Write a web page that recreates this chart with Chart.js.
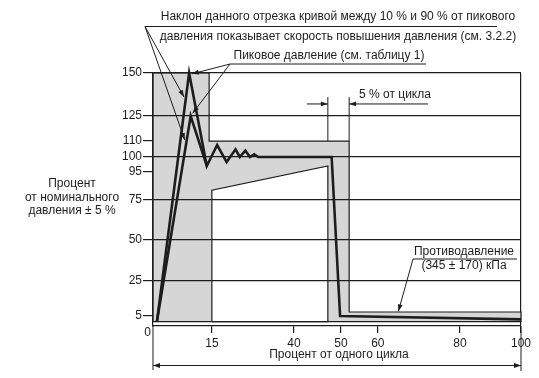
<!DOCTYPE html>
<html>
<head>
<meta charset="utf-8">
<script src="https://cdn.jsdelivr.net/npm/chart.js@4.4.1/dist/chart.umd.min.js"></script>
<style>
  html, body { margin: 0; padding: 0; background: #fff; }
  #wrap { width: 539px; height: 378px; }
</style>
</head>
<body>
<div id="wrap"><canvas id="chart"></canvas></div>
<script>
// axis ticks
var xTicks = [0, 15, 40, 50, 60, 80, 100];
var yTicks = [0, 5, 25, 50, 75, 95, 100, 110, 125, 150];
var yGrid = [25, 50, 75, 100, 125, 150];

// tolerance band: outer outline and the white inner part
var bandX = [0, 0, 14.3, 14.3, 52.2, 52.2, 100, 100, 0];
var bandY = [2.2, 150, 150, 110, 110, 7.3, 7.3, 2.2, 2.2];
var holeX = [15, 15, 47.2, 47.2, 15];
var holeY = [2.2, 82, 97, 2.2, 2.2];

// pressure curves (A reaches 150 %, B only 125 %)
var curveAX = [1, 9.2, 13.7, 16.6, 19.5, 22.2, 23.5, 25.2, 26.6, 27.9, 29.1, 48, 49.8, 100];
var curveAY = [2.2, 150, 97, 107.5, 98.3, 104.8, 100, 104, 100, 101.7, 100, 100, 5, 3.3];
var curveBX = [1, 9.6, 13.7];
var curveBY = [2.2, 125, 97];

// where the leader arrows point (in axis units)
var slopeTips = [[7.9, 136], [8.1, 110.6]];
var peakTips = [[9.9, 149.5], [10.1, 126.6]];
var cycleMarks = [47.2, 52.2];
var backTip = [65, 7.6];

// texts
var yTitle = ['Процент', 'от номинального', 'давления ± 5 %'];
var xTitle = 'Процент от одного цикла';
var slopeNote = ['Наклон данного отрезка кривой между 10 % и 90 % от пикового',
                 'давления показывает скорость повышения давления (см. 3.2.2)'];
var peakNote = 'Пиковое давление (см. таблицу 1)';
var cycleNote = '5 % от цикла';
var backNote = ['Противодавление', '(345 ± 170) кПа'];

// the drawing is not to scale: share of the axis length at each tick value
var xStops = [0, 0.160, 0.383, 0.511, 0.611, 0.834, 1];
var yStops = [0, 0.0395, 0.178, 0.340, 0.498, 0.609, 0.668, 0.731, 0.830, 1];

var ink = '#1d1d1d';
var none = 'rgba(0,0,0,0)';
var family = '"Liberation Sans", Arial, sans-serif';

var LinearScale = Chart.LinearScale || Chart.registry.getScale('linear');

class WarpedScale extends LinearScale {
  stops() { return this.axis === 'x' ? [xTicks, xStops] : [yTicks, yStops]; }
  getPixelForValue(value) {
    if (value === null || value === undefined || isNaN(value)) return NaN;
    var s = this.stops(), v = s[0], f = s[1], i = 1;
    while (i < v.length - 1 && value > v[i]) i++;
    var t = (value - v[i - 1]) / (v[i] - v[i - 1]);
    return this.getPixelForDecimal(f[i - 1] + t * (f[i] - f[i - 1]));
  }
  getValueForPixel(pixel) {
    var d = this.getDecimalForPixel(pixel);
    var s = this.stops(), v = s[0], f = s[1], i = 1;
    while (i < f.length - 1 && d > f[i]) i++;
    var t = (d - f[i - 1]) / (f[i] - f[i - 1]);
    return v[i - 1] + t * (v[i] - v[i - 1]);
  }
}
WarpedScale.id = 'warped';
WarpedScale.defaults = {};
Chart.register(WarpedScale);

function pts(xs, ys) {
  return xs.map(function (x, i) { return {x: x, y: ys[i]}; });
}

function arrow(ctx, x0, y0, x1, y1) {
  ctx.beginPath();
  ctx.moveTo(x0, y0);
  ctx.lineTo(x1, y1);
  ctx.stroke();
  var a = Math.atan2(y1 - y0, x1 - x0), L = 7, w = 2.4;
  ctx.beginPath();
  ctx.moveTo(x1, y1);
  ctx.lineTo(x1 - L * Math.cos(a) + w * Math.sin(a), y1 - L * Math.sin(a) - w * Math.cos(a));
  ctx.lineTo(x1 - L * Math.cos(a) - w * Math.sin(a), y1 - L * Math.sin(a) + w * Math.cos(a));
  ctx.closePath();
  ctx.fill();
}

function line(ctx, x0, y0, x1, y1) {
  ctx.beginPath();
  ctx.moveTo(x0, y0);
  ctx.lineTo(x1, y1);
  ctx.stroke();
}

var notes = {
  id: 'notes',
  afterDraw: function (chart) {
    var ctx = chart.ctx;
    var sx = chart.scales.x, sy = chart.scales.y;
    var px = function (v) { return sx.getPixelForValue(v); };
    var py = function (v) { return sy.getPixelForValue(v); };
    var left = chart.chartArea.left, right = chart.chartArea.right, bottom = chart.chartArea.bottom;

    ctx.save();
    ctx.fillStyle = ink;
    ctx.strokeStyle = ink;
    ctx.lineWidth = 1;
    ctx.font = '12px ' + family;
    ctx.textBaseline = 'middle';

    // origin label sits below-left of the corner
    ctx.textAlign = 'right';
    ctx.fillText(String(yTicks[0]), left - 2, bottom + 7);

    // y title
    ctx.textAlign = 'center';
    yTitle.forEach(function (s, i) { ctx.fillText(s, 72, 184 + i * 13.4); });

    // slope note with two leaders
    ctx.fillText(slopeNote[0], 338, 17);
    ctx.fillText(slopeNote[1], 338, 37);
    line(ctx, 145, 26.5, 497, 26.5);
    slopeTips.forEach(function (t) { arrow(ctx, 145, 26.5, px(t[0]), py(t[1])); });

    // peak note
    ctx.fillText(peakNote, 329, 56);
    line(ctx, 230, 64, 426, 64);
    peakTips.forEach(function (t) { arrow(ctx, 230, 64, px(t[0]), py(t[1])); });

    // 5 % of cycle dimension
    ctx.textAlign = 'left';
    ctx.fillText(cycleNote, 359, 95);
    var yTop = py(136), yDim = py(132);
    cycleMarks.forEach(function (m) { line(ctx, px(m), yTop, px(m), py(110)); });
    arrow(ctx, px(cycleMarks[0]) - 21, yDim, px(cycleMarks[0]), yDim);
    arrow(ctx, 428, yDim, px(cycleMarks[1]), yDim);

    // back pressure
    ctx.textAlign = 'center';
    ctx.fillText(backNote[0], 464, 252);
    ctx.fillText(backNote[1], 464, 266);
    line(ctx, 413, 259, 517, 259);
    arrow(ctx, 413, 259, px(backTip[0]), py(backTip[1]));

    // x title with span arrow
    ctx.fillText(xTitle, 339, 355);
    line(ctx, left, bottom, left, 370);
    line(ctx, right, bottom, right, 371);
    arrow(ctx, (left + right) / 2, 365.5, left, 365.5);
    arrow(ctx, (left + right) / 2, 365.5, right, 365.5);
    ctx.restore();
  }
};

new Chart(document.getElementById('chart'), {
  type: 'line',
  data: {
    datasets: [
      {
        label: 'A', data: pts(curveAX, curveAY), order: 1,
        borderColor: ink, borderWidth: 2.6, borderJoinStyle: 'miter',
        pointRadius: 0, fill: false, clip: false
      },
      {
        label: 'B', data: pts(curveBX, curveBY), order: 1,
        borderColor: ink, borderWidth: 2.6, borderJoinStyle: 'miter',
        pointRadius: 0, fill: false, clip: false
      },
      {
        label: 'hole', data: pts(holeX, holeY), order: 2,
        borderColor: ink, borderWidth: 1.2, backgroundColor: '#ffffff',
        pointRadius: 0, fill: 'shape', clip: false
      },
      {
        label: 'band', data: pts(bandX, bandY), order: 3,
        borderColor: ink, borderWidth: 1.2, backgroundColor: '#d6d6d6',
        pointRadius: 0, fill: 'shape', clip: false
      }
    ]
  },
  options: {
    responsive: true,
    maintainAspectRatio: false,
    animation: false,
    events: [],
    layout: { padding: { top: 73, right: 18, left: 0, bottom: 0 } },
    plugins: { legend: { display: false }, tooltip: { enabled: false } },
    scales: {
      x: {
        type: 'warped', position: 'bottom', min: 0, max: 100,
        afterFit: function (scale) { scale.height = 52; },
        afterBuildTicks: function (scale) {
          scale.ticks = xTicks.map(function (v) { return {value: v}; });
        },
        border: { display: true, color: ink, width: 1.2 },
        grid: {
          lineWidth: 1.2, tickLength: 7,
          color: function (c) { return c.tick && c.tick.value === 100 ? ink : none; },
          tickColor: function (c) { return c.tick && c.tick.value === 0 ? none : ink; }
        },
        ticks: {
          autoSkip: false, maxRotation: 0, padding: 3, color: ink,
          font: { family: family, size: 12 },
          callback: function (v) { return v === 0 ? '' : String(v); }
        }
      },
      y: {
        type: 'warped', position: 'left', min: 0, max: 150,
        afterFit: function (scale) { scale.width = 153; },
        afterBuildTicks: function (scale) {
          scale.ticks = yTicks.map(function (v) { return {value: v}; });
        },
        border: { display: true, color: ink, width: 1.2, z: 1 },
        grid: {
          z: 1, lineWidth: 1.2, tickLength: 10,
          color: function (c) { return c.tick && yGrid.indexOf(c.tick.value) >= 0 ? ink : none; },
          tickColor: function (c) { return c.tick && c.tick.value === 0 ? none : ink; }
        },
        ticks: {
          autoSkip: false, padding: 1, color: ink,
          font: { family: family, size: 12 },
          callback: function (v) { return v === 0 ? '' : String(v); }
        }
      }
    }
  },
  plugins: [notes]
});
</script>
</body>
</html>
